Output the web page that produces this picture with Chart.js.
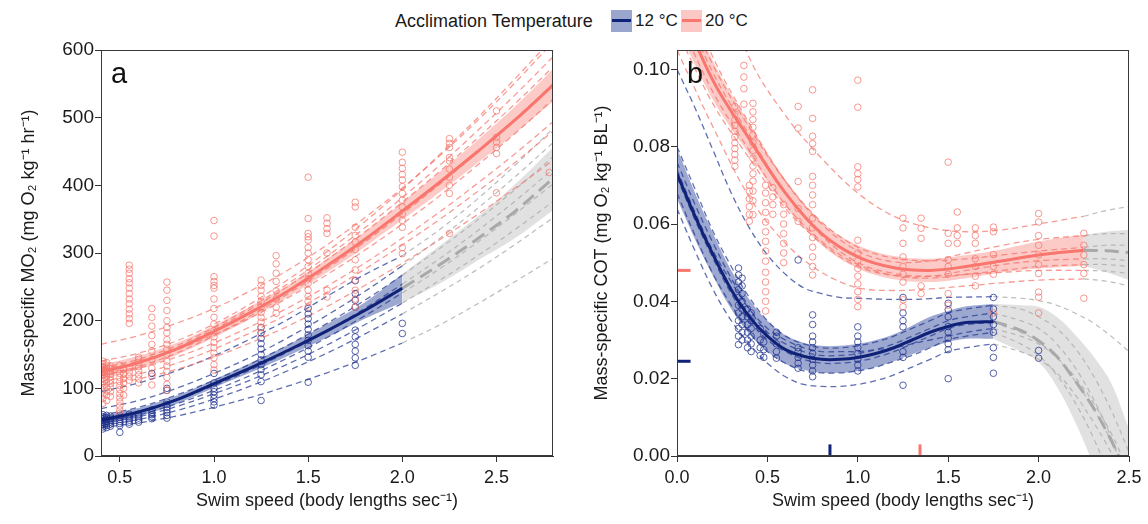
<!DOCTYPE html>
<html><head><meta charset="utf-8">
<script src="https://cdn.jsdelivr.net/npm/chart.js@4.4.1/dist/chart.umd.min.js"></script>
<style>
body{margin:0;background:#fff;width:1148px;height:524px;overflow:hidden;position:relative;font-family:'Liberation Sans',Arial,sans-serif;color:#1a1a1a}
canvas{position:absolute;top:0}
.lg{position:absolute;font-size:18px;line-height:20px;top:11px;white-space:nowrap}
.lg.s{font-size:17px}
.sw{position:absolute;top:10px;width:21px;height:22px}
.sw i{position:absolute;left:1px;right:1px;top:9px;height:3px}
</style></head><body>
<div class="lg" style="left:395px">Acclimation Temperature</div>
<div class="sw" style="left:611px;background:rgba(72,92,168,0.55)"><i style="background:#0f2277"></i></div>
<div class="lg s" style="left:635px">12 °C</div>
<div class="sw" style="left:681px;background:rgba(248,118,109,0.4)"><i style="background:#f8766d"></i></div>
<div class="lg s" style="left:705px">20 °C</div>
<canvas id="ca" width="570" height="524" style="left:0"></canvas>
<canvas id="cb" width="578" height="524" style="left:570px"></canvas>
<script>
const FONT = "'Liberation Sans', Arial, sans-serif";

// ---------------- Panel a : mass-specific MO2 ----------------
const xTicksA = [0.5, 1.0, 1.5, 2.0, 2.5];
const xTickLabelsA = ['0.5', '1.0', '1.5', '2.0', '2.5'];
const yTicksA = [0, 100, 200, 300, 400, 500, 600];
const yTickLabelsA = ['0', '100', '200', '300', '400', '500', '600'];

const xGridA = [0.4, 0.6, 0.8, 1.0, 1.2, 1.4, 1.6, 1.8, 2.0, 2.2, 2.4, 2.6, 2.8];
const mean20A = [124, 138, 158, 184, 213, 245, 281, 320, 362, 405, 450, 497, 548];
const lo20A   = [113, 128, 149, 175, 204, 236, 271, 309, 349, 390, 433, 477, 524];
const hi20A   = [135, 148, 167, 193, 222, 254, 291, 331, 375, 420, 467, 517, 572];
const indiv20A = [
  [165, 178, 196, 218, 245, 276, 312, 352, 396, 444, 496, 552, 612],
  [140, 152, 170, 195, 226, 262, 302, 346, 394, 446, 500, 558, 618],
  [130, 143, 163, 190, 221, 256, 295, 337, 382, 430, 481, 534, 590],
  [125, 139, 160, 187, 218, 252, 290, 331, 375, 421, 470, 521, 575],
  [118, 132, 152, 178, 208, 241, 277, 316, 358, 402, 449, 498, 550],
  [128, 140, 157, 179, 205, 235, 268, 304, 343, 385, 430, 477, 527],
  [120, 130, 146, 167, 192, 220, 251, 285, 322, 361, 403, 447, 494],
  [110, 121, 137, 158, 183, 211, 242, 276, 312, 350, 391, 434, 480],
  [105, 114, 128, 146, 168, 193, 221, 252, 285, 320, 357, 396, 437]
];

const xFitA12 = [0.4, 0.6, 0.8, 1.0, 1.2, 1.4, 1.6, 1.8, 2.0];
const mean12A = [53, 65, 83, 107, 131, 157, 185, 215, 248];
const lo12A   = [47, 59, 77, 101, 124, 149, 175, 203, 227];
const hi12A   = [59, 71, 89, 113, 138, 165, 195, 227, 269];
const xExtA12 = [2.0, 2.2, 2.4, 2.6, 2.8];
const meanExt12A = [248, 283, 321, 362, 410];
const loExt12A   = [227, 255, 289, 322, 363];
const hiExt12A   = [269, 311, 354, 402, 456];
// individual fits at xGridA (measured part up to 2.0, extrapolated after)
const indiv12A = [
  [95, 108, 126, 148, 174, 203, 236, 268, 296, 335, 380, 430, 484],
  [70, 82, 100, 122, 147, 176, 208, 243, 281, 322, 366, 413, 463],
  [60, 72, 90, 112, 137, 165, 196, 230, 267, 307, 349, 394, 442],
  [55, 66, 83, 104, 128, 155, 185, 218, 254, 292, 333, 377, 424],
  [50, 61, 77, 97, 120, 146, 175, 207, 241, 277, 316, 358, 402],
  [48, 58, 73, 92, 113, 137, 164, 194, 226, 260, 296, 335, 376],
  [45, 54, 67, 84, 104, 127, 152, 180, 210, 242, 276, 313, 352],
  [42, 49, 59, 72, 87, 104, 123, 144, 167, 194, 225, 258, 292]
];

const obs20A = [
  [0.41, [78, 85, 92, 98, 104, 110, 115, 120, 125, 128, 132, 136, 140]],
  [0.43, [82, 90, 96, 102, 108, 113, 118, 122, 126, 130, 134, 138]],
  [0.45, [88, 95, 101, 107, 112, 117, 121, 125, 129, 133]],
  [0.5,  [63, 68, 74, 80, 86, 92, 98, 104, 110, 116, 122, 128, 134]],
  [0.52, [90, 100, 108, 115, 122, 128]],
  [0.55, [112, 118, 124, 131, 196, 203, 210, 217, 225, 232, 240, 248, 256, 262, 270, 276, 282]],
  [0.6,  [108, 114, 120, 126, 132, 138, 143, 146]],
  [0.67, [105, 118, 130, 142, 155, 165, 178, 192, 205, 218]],
  [0.75, [97, 106, 116, 125, 133, 140, 150, 158, 165, 172, 182, 190, 200, 215, 230, 245, 257]],
  [1.0,  [127, 135, 145, 152, 160, 168, 176, 185, 195, 205, 218, 232, 248, 252, 258, 265, 325, 348]],
  [1.25, [181, 190, 198, 205, 212, 220, 228, 236, 245, 252, 260]],
  [1.33, [211, 220, 232, 244, 258, 270, 284, 296]],
  [1.5,  [220, 228, 236, 245, 255, 262, 270, 280, 290, 300, 308, 319, 324, 329, 351, 412]],
  [1.6,  [235, 245, 300, 329, 336, 344, 352]],
  [1.75, [220, 232, 245, 260, 275, 290, 305, 316, 326, 338, 368, 375]],
  [2.0,  [299, 308, 338, 348, 358, 368, 378, 388, 398, 408, 416, 425, 434, 449]],
  [2.25, [329, 388, 400, 412, 424, 436, 441, 456, 462, 469]],
  [2.5,  [389, 447, 456, 464, 471, 510]],
  [2.78, [419]]
];
const obs12A = [
  [0.41, [40, 43, 46, 49, 52, 55, 58, 61]],
  [0.43, [42, 45, 48, 51, 54, 57, 60]],
  [0.45, [44, 47, 50, 53, 56, 59]],
  [0.5,  [35, 45, 48, 51, 54, 57, 60]],
  [0.55, [47, 50, 53, 56, 59, 62]],
  [0.6,  [50, 53, 56, 59, 62]],
  [0.67, [55, 58, 61, 64, 68, 122]],
  [0.75, [56, 60, 64, 68, 72, 76, 80, 97, 100]],
  [1.0,  [75, 80, 85, 90, 95, 100, 108, 122]],
  [1.25, [82, 110, 120, 128, 135, 142, 150, 158, 166, 174, 182, 190]],
  [1.5,  [109, 146, 155, 163, 171, 179, 187, 195, 203, 210, 218]],
  [1.75, [134, 145, 155, 165, 176, 186, 220, 230, 240, 259]],
  [2.0,  [181, 196]]
];

// ---------------- Panel b : mass-specific COT ----------------
const xTicksB = [0.0, 0.5, 1.0, 1.5, 2.0, 2.5];
const xTickLabelsB = ['0.0', '0.5', '1.0', '1.5', '2.0', '2.5'];
const yTicksB = [0, 0.02, 0.04, 0.06, 0.08, 0.10];
const yTickLabelsB = ['0.00', '0.02', '0.04', '0.06', '0.08', '0.10'];

const xFitB20 = [0, 0.2, 0.4, 0.6, 0.8, 1.0, 1.2, 1.4, 1.6, 1.8, 2.0, 2.25];
const mean20B = [0.118, 0.097, 0.082, 0.068, 0.0575, 0.0515, 0.0487, 0.048, 0.049, 0.0505, 0.052, 0.0532];
const lo20B   = [0.111, 0.092, 0.078, 0.0645, 0.0545, 0.0485, 0.0457, 0.045, 0.046, 0.0475, 0.0485, 0.0492];
const hi20B   = [0.125, 0.102, 0.086, 0.0715, 0.0605, 0.0545, 0.0517, 0.051, 0.052, 0.0535, 0.0555, 0.0572];
const xExtB20 = [2.25, 2.375, 2.5];
const meanExt20B = [0.0532, 0.0531, 0.0526];
const loExt20B   = [0.0492, 0.0475, 0.0455];
const hiExt20B   = [0.0572, 0.058, 0.0585];
const indiv20B = [
  [0.122, 0.101, 0.085, 0.071, 0.0605, 0.054, 0.0512, 0.0505, 0.051, 0.052, 0.053, 0.054],
  [0.114, 0.094, 0.079, 0.065, 0.0555, 0.0495, 0.0467, 0.046, 0.047, 0.048, 0.049, 0.0495],
  [0.126, 0.103, 0.086, 0.071, 0.060, 0.053, 0.0502, 0.0505, 0.0525, 0.0545, 0.056, 0.057],
  [0.110, 0.091, 0.077, 0.064, 0.055, 0.049, 0.0467, 0.0465, 0.048, 0.0495, 0.0505, 0.051],
  [0.120, 0.099, 0.083, 0.068, 0.057, 0.050, 0.0472, 0.0465, 0.047, 0.0475, 0.048, 0.048],
  [0.160, 0.130, 0.103, 0.088, 0.077, 0.068, 0.062, 0.059, 0.058, 0.0585, 0.060, 0.062],
  [0.105, 0.085, 0.067, 0.055, 0.0475, 0.0435, 0.0428, 0.0432, 0.044, 0.0448, 0.0455, 0.0458]
];
const indivExt20B = [
  [0.054, 0.0545, 0.0545],
  [0.0495, 0.0495, 0.049],
  [0.057, 0.0575, 0.0575],
  [0.051, 0.051, 0.0505],
  [0.048, 0.0478, 0.0472],
  [0.062, 0.0635, 0.0645],
  [0.0458, 0.0452, 0.044]
];

const xFitB12 = [0, 0.1, 0.2, 0.3, 0.4, 0.5, 0.6, 0.7, 0.8, 0.9, 1.0, 1.1, 1.2, 1.3, 1.4, 1.5, 1.6, 1.75];
const mean12B = [0.073, 0.062, 0.052, 0.043, 0.036, 0.031, 0.0275, 0.0258, 0.025, 0.025, 0.0255, 0.0265, 0.028, 0.030, 0.032, 0.0335, 0.0345, 0.0348];
const lo12B   = [0.0665, 0.056, 0.0465, 0.038, 0.0315, 0.027, 0.0238, 0.0223, 0.0215, 0.0215, 0.022, 0.023, 0.0245, 0.0263, 0.028, 0.0295, 0.0303, 0.0303];
const hi12B   = [0.0795, 0.068, 0.0575, 0.048, 0.0405, 0.035, 0.0312, 0.0293, 0.0285, 0.0285, 0.029, 0.030, 0.0315, 0.0337, 0.036, 0.0375, 0.0387, 0.0393];
const xExtB12 = [1.75, 1.9, 2.0, 2.1, 2.2, 2.3, 2.4, 2.5];
const meanExt12B = [0.0348, 0.0325, 0.0298, 0.0258, 0.0196, 0.0127, 0.0042, -0.006];
const loExt12B   = [0.0303, 0.027, 0.0243, 0.018, 0.009, -0.002, -0.015, -0.03];
const hiExt12B   = [0.0393, 0.039, 0.0386, 0.036, 0.0315, 0.026, 0.019, 0.007];
const indiv12B = [
  [0.100, 0.090, 0.079, 0.068, 0.059, 0.052, 0.047, 0.0435, 0.042, 0.041, 0.0408, 0.0406, 0.0405, 0.0405, 0.0407, 0.041, 0.0411, 0.0412],
  [0.080, 0.069, 0.058, 0.049, 0.041, 0.035, 0.031, 0.029, 0.028, 0.028, 0.0285, 0.0295, 0.031, 0.033, 0.035, 0.037, 0.038, 0.039],
  [0.076, 0.065, 0.055, 0.046, 0.038, 0.032, 0.029, 0.027, 0.026, 0.026, 0.0265, 0.0275, 0.029, 0.031, 0.033, 0.035, 0.036, 0.037],
  [0.072, 0.061, 0.051, 0.042, 0.035, 0.030, 0.027, 0.025, 0.024, 0.024, 0.0245, 0.0255, 0.027, 0.029, 0.031, 0.033, 0.034, 0.0345],
  [0.068, 0.057, 0.047, 0.039, 0.032, 0.027, 0.024, 0.022, 0.0215, 0.0215, 0.022, 0.023, 0.0245, 0.026, 0.028, 0.030, 0.031, 0.032],
  [0.064, 0.053, 0.043, 0.035, 0.029, 0.024, 0.0205, 0.0185, 0.018, 0.018, 0.0185, 0.0195, 0.021, 0.023, 0.025, 0.027, 0.028, 0.029],
  [0.074, 0.063, 0.053, 0.045, 0.038, 0.033, 0.030, 0.028, 0.027, 0.027, 0.027, 0.0275, 0.028, 0.029, 0.030, 0.031, 0.032, 0.033]
];
const indivExt12B = [
  [0.0412, 0.0408, 0.0402, 0.039, 0.037, 0.0345, 0.031, 0.027],
  [0.039, 0.038, 0.036, 0.033, 0.028, 0.021, 0.012, 0.001],
  [0.037, 0.035, 0.033, 0.029, 0.023, 0.015, 0.005, -0.007],
  [0.0345, 0.032, 0.0295, 0.0255, 0.0195, 0.0125, 0.004, -0.006],
  [0.032, 0.029, 0.026, 0.021, 0.014, 0.005, -0.006, -0.019],
  [0.029, 0.027, 0.025, 0.0215, 0.016, 0.009, 0.001, -0.009],
  [0.033, 0.031, 0.029, 0.0255, 0.0205, 0.014, 0.006, -0.004]
];

const obs20B = [
  [0.32, [0.0749, 0.0765, 0.078, 0.0795, 0.081, 0.0825, 0.084, 0.0855, 0.087, 0.0885, 0.0904]],
  [0.37, [0.091, 0.095, 0.098, 0.101]],
  [0.40, [0.0607, 0.0625, 0.0645, 0.0665, 0.0685, 0.070]],
  [0.42, [0.0624, 0.066, 0.0685, 0.0711, 0.073, 0.075, 0.077, 0.079, 0.081, 0.083, 0.085, 0.087, 0.089, 0.0912]],
  [0.49, [0.0375, 0.040, 0.0425, 0.045, 0.0475, 0.0504, 0.053, 0.0555, 0.058, 0.0605, 0.063, 0.0655, 0.068, 0.070]],
  [0.53, [0.0625, 0.065, 0.067, 0.0694]],
  [0.59, [0.050, 0.0525, 0.055, 0.0575, 0.060, 0.0625, 0.065]],
  [0.67, [0.0607, 0.064, 0.071, 0.0848, 0.0904]],
  [0.75, [0.0468, 0.049, 0.0515, 0.054, 0.0565, 0.059, 0.0615, 0.065, 0.0675, 0.070, 0.0723, 0.0788, 0.0808, 0.0827, 0.0873, 0.0947]],
  [1.0,  [0.0386, 0.0405, 0.0425, 0.0445, 0.0465, 0.0485, 0.0505, 0.0525, 0.0558, 0.0696, 0.0715, 0.073, 0.0748, 0.0902, 0.0972]],
  [1.25, [0.0386, 0.0404, 0.045, 0.047, 0.049, 0.0515, 0.055, 0.059, 0.0615]],
  [1.35, [0.042, 0.044, 0.0563, 0.0589, 0.0615]],
  [1.5,  [0.039, 0.042, 0.047, 0.049, 0.0508, 0.055, 0.0576, 0.076]],
  [1.55, [0.055, 0.057, 0.059, 0.0631]],
  [1.65, [0.044, 0.0465, 0.049, 0.051, 0.055, 0.057, 0.059]],
  [1.75, [0.037, 0.047, 0.049, 0.0521, 0.058, 0.0592]],
  [2.0,  [0.037, 0.0411, 0.0424, 0.0472, 0.0495, 0.052, 0.0545, 0.057, 0.0605, 0.0627]],
  [2.25, [0.0408, 0.0472, 0.0495, 0.052, 0.0545, 0.0576]]
];
const obs12B = [
  [0.34, [0.0288, 0.031, 0.033, 0.035, 0.037, 0.039, 0.041, 0.043, 0.045, 0.0468, 0.0486]],
  [0.36, [0.030, 0.032, 0.034, 0.036, 0.038, 0.040, 0.042, 0.044, 0.046]],
  [0.39, [0.028, 0.030, 0.032, 0.034, 0.036, 0.038]],
  [0.41, [0.027, 0.029, 0.031, 0.033, 0.035, 0.037]],
  [0.46, [0.026, 0.028, 0.030, 0.033]],
  [0.48, [0.0255, 0.0275, 0.0295, 0.0315]],
  [0.55, [0.0253, 0.027, 0.029, 0.031, 0.032]],
  [0.67, [0.0227, 0.024, 0.0255, 0.027, 0.028, 0.0507]],
  [0.75, [0.0205, 0.022, 0.0235, 0.025, 0.0265, 0.028, 0.0295, 0.031, 0.034, 0.0365]],
  [1.0,  [0.022, 0.0235, 0.025, 0.0265, 0.028, 0.0295, 0.031, 0.0334]],
  [1.25, [0.0183, 0.0255, 0.027, 0.0334, 0.035, 0.037, 0.041]],
  [1.5,  [0.020, 0.0275, 0.029, 0.0305, 0.032, 0.0335, 0.036, 0.0378, 0.0395]],
  [1.75, [0.0214, 0.0255, 0.028, 0.032, 0.034, 0.036, 0.038, 0.041]],
  [2.0,  [0.0253, 0.0273]]
];
// optimal swim speed and minimum COT markers
const optSpeed12 = 0.846, optSpeed20 = 1.344;
const minCOT12 = 0.0245, minCOT20 = 0.048;

// ---------------- styles ----------------
const C = {
  red: '#f8766d', redPt: 'rgba(244,118,108,0.75)', redDash: 'rgba(244,112,102,0.7)', redBand: 'rgba(248,118,109,0.38)',
  blue: '#0f2277', bluePt: 'rgba(28,45,140,0.75)', blueDash: 'rgba(40,62,150,0.75)', blueBand: 'rgba(60,82,162,0.5)',
  gray: '#a9a9a9', grayDash: 'rgba(175,175,175,0.85)', grayBand: 'rgba(180,180,180,0.4)'
};
const SMOOTH = 0.35;

function xy(xs, ys) { return xs.map((x, i) => ({x: x, y: ys[i]})); }
function flat(groups) { const out = []; groups.forEach(g => g[1].forEach(y => out.push({x: g[0], y: y}))); return out; }
function line(data, color, width, dash, order, tension) {
  return {type: 'line', data: data, borderColor: color, borderWidth: width, borderDash: dash || [],
    pointRadius: 0, fill: false, tension: tension === undefined ? SMOOTH : tension, order: order};
}
function band(xs, lo, hi, color, order) {
  return [
    {type: 'line', data: xy(xs, lo), borderWidth: 0, borderColor: 'rgba(0,0,0,0)', pointRadius: 0, fill: false, tension: SMOOTH, order: order},
    {type: 'line', data: xy(xs, hi), borderWidth: 0, borderColor: 'rgba(0,0,0,0)', pointRadius: 0, fill: '-1', backgroundColor: color, tension: SMOOTH, order: order}
  ];
}
function scatter(data, color, order) {
  return {type: 'scatter', data: data, pointStyle: 'circle', pointRadius: 3.3, borderColor: color, pointBorderColor: color,
    backgroundColor: 'rgba(0,0,0,0)', pointBackgroundColor: 'rgba(0,0,0,0)', borderWidth: 1, pointBorderWidth: 1, showLine: false, order: order};
}

const framePlugin = {
  id: 'frame',
  afterDatasetsDraw(chart, args, opts) {
    const {ctx, chartArea: a} = chart;
    ctx.save();
    ctx.strokeStyle = '#3a3a3a'; ctx.lineWidth = 1;
    ctx.strokeRect(Math.round(a.left) + 0.5, Math.round(a.top) + 0.5, Math.round(a.right - a.left) - 1, Math.round(a.bottom - a.top) - 1);
    ctx.fillStyle = '#111'; ctx.font = '29px ' + FONT; ctx.textBaseline = 'alphabetic';
    ctx.fillText(opts.letter, a.left + 10, a.top + 33);
    ctx.restore();
  }
};

function makeScales(o) {
  const grid = {display: true, drawOnChartArea: false, drawTicks: true, tickLength: 6, color: '#333', lineWidth: 1};
  const border = {display: true, color: '#333', width: 1};
  return {
    x: {type: 'linear', min: o.xmin, max: o.xmax, grid: grid, border: border,
      afterBuildTicks: s => { s.ticks = o.xt.map(v => ({value: v})); },
      afterFit: s => { s.height = 68; },
      ticks: {autoSkip: false, maxRotation: 0, minRotation: 0, padding: 5, color: '#1a1a1a', font: {family: FONT, size: 18}, callback: (v, i) => o.xl[i]},
      title: {display: true, text: 'Swim speed (body lengths sec⁻¹)', color: '#1a1a1a', font: {family: FONT, size: 18}, padding: {top: 0, bottom: 12}}},
    y: {type: 'linear', min: o.ymin, max: o.ymax, grid: grid, border: border,
      afterBuildTicks: s => { s.ticks = o.yt.map(v => ({value: v})); },
      afterFit: s => { s.width = o.yw; },
      ticks: {autoSkip: false, padding: 1, color: '#1a1a1a', font: {family: FONT, size: 19}, callback: (v, i) => o.yl[i]},
      title: {display: true, text: o.ytitle, color: '#1a1a1a', font: {family: FONT, size: 18}, padding: {top: o.ytp, bottom: 0}}}
  };
}

function baseOptions(scales, letter, padRight) {
  return {
    responsive: false, animation: false, events: [],
    layout: {padding: {left: 0, right: padRight, top: 50, bottom: 0}},
    plugins: {legend: {display: false}, tooltip: {enabled: false}, frame: {letter: letter}},
    scales: scales
  };
}

// ---------------- build panel a ----------------
const dsA = [];
dsA.push(...band(xExtA12, loExt12A, hiExt12A, C.grayBand, 100));
indiv12A.forEach(v => dsA.push(line(xy(xGridA.slice(8), v.slice(8)), C.grayDash, 1.2, [5, 4], 95)));
dsA.push(line(xy(xExtA12, meanExt12A), C.gray, 3, [14, 7], 92));
dsA.push(...band(xGridA, lo20A, hi20A, C.redBand, 90));
dsA.push(...band(xFitA12, lo12A, hi12A, C.blueBand, 90));
indiv20A.forEach(v => dsA.push(line(xy(xGridA, v), C.redDash, 1.3, [6, 4], 80)));
indiv12A.forEach(v => dsA.push(line(xy(xGridA.slice(0, 9), v.slice(0, 9)), C.blueDash, 1.3, [6, 4], 80)));
dsA.push(scatter(flat(obs20A), C.redPt, 70));
dsA.push(scatter(flat(obs12A), C.bluePt, 70));
dsA.push(line(xy(xGridA, mean20A), C.red, 3, [], 60));
dsA.push(line(xy(xFitA12, mean12A), C.blue, 3, [], 60));

new Chart(document.getElementById('ca'), {
  type: 'scatter',
  data: {datasets: dsA},
  options: baseOptions(makeScales({xmin: 0.4, xmax: 2.8, xt: xTicksA, xl: xTickLabelsA, ymin: 0, ymax: 600, yt: yTicksA, yl: yTickLabelsA,
    ytitle: 'Mass-specific MO₂ (mg O₂ kg⁻¹ hr⁻¹)', yw: 101, ytp: 18}), 'a', 17),
  plugins: [framePlugin]
});

// ---------------- build panel b ----------------
const dsB = [];
dsB.push(...band(xExtB12, loExt12B, hiExt12B, C.grayBand, 100));
dsB.push(...band(xExtB20, loExt20B, hiExt20B, C.grayBand, 100));
indivExt12B.forEach(v => dsB.push(line(xy(xExtB12, v), C.grayDash, 1.2, [5, 4], 95)));
indivExt20B.forEach(v => dsB.push(line(xy(xExtB20, v), C.grayDash, 1.2, [5, 4], 95)));
dsB.push(line(xy(xExtB12, meanExt12B), C.gray, 3, [14, 7], 92));
dsB.push(line(xy(xExtB20, meanExt20B), C.gray, 3, [14, 7], 92));
dsB.push(...band(xFitB20, lo20B, hi20B, C.redBand, 90));
dsB.push(...band(xFitB12, lo12B, hi12B, C.blueBand, 90));
indiv20B.forEach(v => dsB.push(line(xy(xFitB20, v), C.redDash, 1.3, [6, 4], 80)));
indiv12B.forEach(v => dsB.push(line(xy(xFitB12, v), C.blueDash, 1.3, [6, 4], 80)));
dsB.push(scatter(flat(obs20B), C.redPt, 70));
dsB.push(scatter(flat(obs12B), C.bluePt, 70));
dsB.push(line(xy(xFitB20, mean20B), C.red, 3, [], 60));
dsB.push(line(xy(xFitB12, mean12B), C.blue, 3, [], 60));
// markers: optimal speed (bottom) and minimum COT (left)
dsB.push(line([{x: optSpeed12, y: 0}, {x: optSpeed12, y: 0.003}], C.blue, 3, [], 50, 0));
dsB.push(line([{x: optSpeed20, y: 0}, {x: optSpeed20, y: 0.003}], C.red, 3, [], 50, 0));
dsB.push(line([{x: 0, y: minCOT12}, {x: 0.075, y: minCOT12}], C.blue, 3, [], 50, 0));
dsB.push(line([{x: 0, y: minCOT20}, {x: 0.075, y: minCOT20}], C.red, 3, [], 50, 0));

new Chart(document.getElementById('cb'), {
  type: 'scatter',
  data: {datasets: dsB},
  options: baseOptions(makeScales({xmin: 0, xmax: 2.5, xt: xTicksB, xl: xTickLabelsB, ymin: 0, ymax: 0.105, yt: yTicksB, yl: yTickLabelsB,
    ytitle: 'Mass-specific COT (mg O₂ kg⁻¹ BL⁻¹)', yw: 107, ytp: 21}), 'b', 19),
  plugins: [framePlugin]
});
</script>
</body></html>
